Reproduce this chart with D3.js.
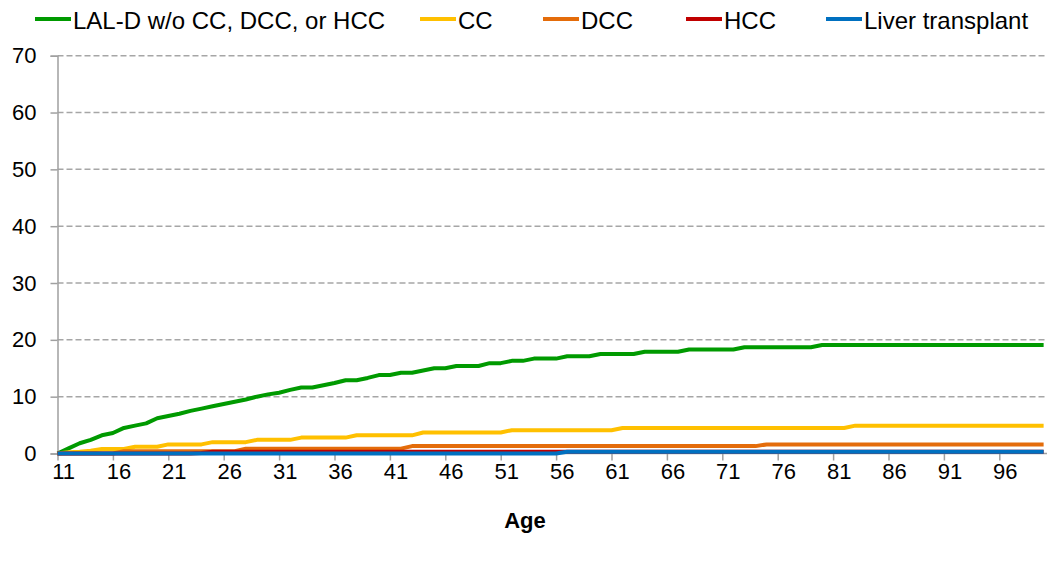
<!DOCTYPE html>
<html><head><meta charset="utf-8">
<script src="https://cdn.jsdelivr.net/npm/d3@7"></script>
<style>
html,body{margin:0;padding:0;background:#fff;}
svg{display:block;font-family:"Liberation Sans",Arial,sans-serif;}
</style></head>
<body>
<svg id="chart" width="1048" height="561"></svg>
<script>
const ages = [11,12,13,14,15,16,17,18,19,20,21,22,23,24,25,26,27,28,29,30,
  31,32,33,34,35,36,37,38,39,40,41,42,43,44,45,46,47,48,49,50,
  51,52,53,54,55,56,57,58,59,60,61,62,63,64,65,66,67,68,69,70,
  71,72,73,74,75,76,77,78,79,80,81,82,83,84,85,86,87,88,89,90,
  91,92,93,94,95,96,97,98,99,100];

const seriesNames = ["LAL-D w/o CC, DCC, or HCC","CC","DCC","HCC","Liver transplant"];
const seriesColors = ["#009a00","#ffc000","#e46c0a","#c00000","#0070c0"];

const lald = [0,0.9,1.8,2.4,3.2,3.6,4.5,4.9,5.3,6.2,
  6.6,7.0,7.5,7.9,8.3,8.7,9.1,9.5,10.0,10.4,
  10.7,11.2,11.6,11.6,12.0,12.4,12.9,12.9,13.3,13.8,
  13.8,14.2,14.2,14.6,15.0,15.0,15.4,15.4,15.4,15.9,
  15.9,16.3,16.3,16.7,16.7,16.7,17.1,17.1,17.1,17.5,
  17.5,17.5,17.5,17.9,17.9,17.9,17.9,18.3,18.3,18.3,
  18.3,18.3,18.7,18.7,18.7,18.7,18.7,18.7,18.7,19.1,
  19.1,19.1,19.1,19.1,19.1,19.1,19.1,19.1,19.1,19.1,
  19.1,19.1,19.1,19.1,19.1,19.1,19.1,19.1,19.1,19.1];
const cc = [0,0.2,0.3,0.5,0.8,0.8,0.8,1.2,1.2,1.2,
  1.6,1.6,1.6,1.6,2.0,2.0,2.0,2.0,2.4,2.4,
  2.4,2.4,2.8,2.8,2.8,2.8,2.8,3.2,3.2,3.2,
  3.2,3.2,3.2,3.7,3.7,3.7,3.7,3.7,3.7,3.7,
  3.7,4.1,4.1,4.1,4.1,4.1,4.1,4.1,4.1,4.1,
  4.1,4.5,4.5,4.5,4.5,4.5,4.5,4.5,4.5,4.5,
  4.5,4.5,4.5,4.5,4.5,4.5,4.5,4.5,4.5,4.5,
  4.5,4.5,4.9,4.9,4.9,4.9,4.9,4.9,4.9,4.9,
  4.9,4.9,4.9,4.9,4.9,4.9,4.9,4.9,4.9,4.9];
const dcc = [0,0,0,0,0,0,0.4,0.4,0.4,0.4,
  0.4,0.4,0.4,0.4,0.4,0.4,0.4,0.85,0.85,0.85,
  0.85,0.85,0.85,0.85,0.85,0.85,0.85,0.85,0.85,0.85,
  0.85,0.85,1.3,1.3,1.3,1.3,1.3,1.3,1.3,1.3,
  1.3,1.3,1.3,1.3,1.3,1.3,1.3,1.3,1.3,1.3,
  1.3,1.3,1.3,1.3,1.3,1.3,1.3,1.3,1.3,1.3,
  1.3,1.3,1.3,1.3,1.6,1.6,1.6,1.6,1.6,1.6,
  1.6,1.6,1.6,1.6,1.6,1.6,1.6,1.6,1.6,1.6,
  1.6,1.6,1.6,1.6,1.6,1.6,1.6,1.6,1.6,1.6];
const hcc = [0,0,0,0,0,0,0,0,0,0,
  0,0,0,0.1,0.3,0.3,0.3,0.3,0.3,0.3,
  0.3,0.3,0.3,0.3,0.3,0.3,0.3,0.3,0.3,0.3,
  0.3,0.3,0.3,0.3,0.3,0.3,0.3,0.3,0.3,0.3,
  0.3,0.3,0.3,0.3,0.3,0.3,0.3,0.3,0.3,0.3,
  0.3,0.3,0.3,0.3,0.3,0.3,0.3,0.3,0.3,0.3,
  0.3,0.3,0.3,0.3,0.3,0.3,0.3,0.3,0.3,0.3,
  0.3,0.3,0.3,0.3,0.3,0.3,0.3,0.3,0.3,0.3,
  0.3,0.3,0.3,0.3,0.3,0.3,0.3,0.3,0.3,0.3];
const liver = [0,0,0,0,0,0,0,0,0,0,
  0,0,0,0,0,0,0,0,0,0,
  0,0,0,0,0,0,0,0,0,0,
  0,0,0,0,0,0,0,0,0,0,
  0,0,0,0,0,0,0.3,0.3,0.3,0.3,
  0.3,0.3,0.3,0.3,0.3,0.3,0.3,0.3,0.3,0.3,
  0.3,0.3,0.3,0.3,0.3,0.3,0.3,0.3,0.3,0.3,
  0.3,0.3,0.3,0.3,0.3,0.3,0.3,0.3,0.3,0.3,
  0.3,0.3,0.3,0.3,0.3,0.3,0.3,0.3,0.3,0.3];

const yTicks = [0,10,20,30,40,50,60,70];
const xTickAges = [11,16,21,26,31,36,41,46,51,56,61,66,71,76,81,86,91,96];
const xTitle = "Age";

const seriesValues = [lald, cc, dcc, hcc, liver];

(function draw() {
  const svg = d3.select("#chart");
  const pL = 57.5, pR = 1047, pT = 55.7, pB = 453.5;
  const step = 11.08;

  const x = d3.scalePoint().domain(ages).range([pL, pL + step * (ages.length - 1)]);
  const y = d3.scaleLinear().domain([0, 70]).range([pB, pT]);

  const axisColor = "#a0a0a0";
  const font = "Liberation Sans, Arial, sans-serif";

  svg.append("g").selectAll("line").data(yTicks.filter(d => d > 0)).join("line")
    .attr("x1", pL).attr("x2", pR)
    .attr("y1", d => y(d)).attr("y2", d => y(d))
    .attr("stroke", "#a6a6a6").attr("stroke-width", 1.5)
    .attr("stroke-dasharray", "6,3");

  const yAxis = svg.append("g").attr("transform", `translate(${pL},0)`)
    .call(d3.axisLeft(y).tickValues(yTicks).tickSize(7).tickPadding(14).tickFormat(d3.format("d")));
  yAxis.select(".domain").attr("stroke", axisColor).attr("stroke-width", 1.5);
  yAxis.selectAll(".tick line").attr("stroke", axisColor).attr("stroke-width", 1.5);
  yAxis.selectAll(".tick text").attr("font-size", 22).attr("fill", "#000").attr("font-family", font);

  const xAxis = svg.append("g").attr("transform", `translate(0,${pB})`)
    .call(d3.axisBottom(x).tickValues(xTickAges).tickSize(7).tickPadding(3));
  xAxis.select(".domain").attr("stroke", axisColor).attr("stroke-width", 1.5)
    .attr("d", `M${pL},0H${pR}`);
  xAxis.selectAll(".tick line").attr("stroke", axisColor).attr("stroke-width", 1.5);
  xAxis.selectAll(".tick text").attr("font-size", 22).attr("fill", "#000")
    .attr("dx", step / 2).attr("font-family", font);

  const line = d3.line().x((d, i) => x(ages[i])).y(d => y(d));
  svg.append("g").selectAll("path").data(seriesValues).join("path")
    .attr("d", d => line(d))
    .attr("fill", "none")
    .attr("stroke", (d, i) => seriesColors[i])
    .attr("stroke-width", 4)
    .attr("stroke-linejoin", "round");

  svg.append("text").attr("x", 525).attr("y", 520)
    .attr("text-anchor", "middle").attr("dominant-baseline", "central")
    .attr("font-size", 22).attr("font-weight", "bold").text(xTitle);

  // legend layout (start x of each entry's line sample)
  const legendStarts = [35, 420, 543, 686, 826];
  const lg = svg.append("g");
  const ly = 19;
  seriesNames.forEach((name, i) => {
    const lx = legendStarts[i];
    lg.append("line").attr("x1", lx).attr("x2", lx + 36).attr("y1", ly).attr("y2", ly)
      .attr("stroke", seriesColors[i]).attr("stroke-width", 4);
    lg.append("text").attr("x", lx + 38).attr("y", ly + 1)
      .attr("dominant-baseline", "central").attr("font-size", 24).text(name);
  });
})();
</script>
</body></html>
